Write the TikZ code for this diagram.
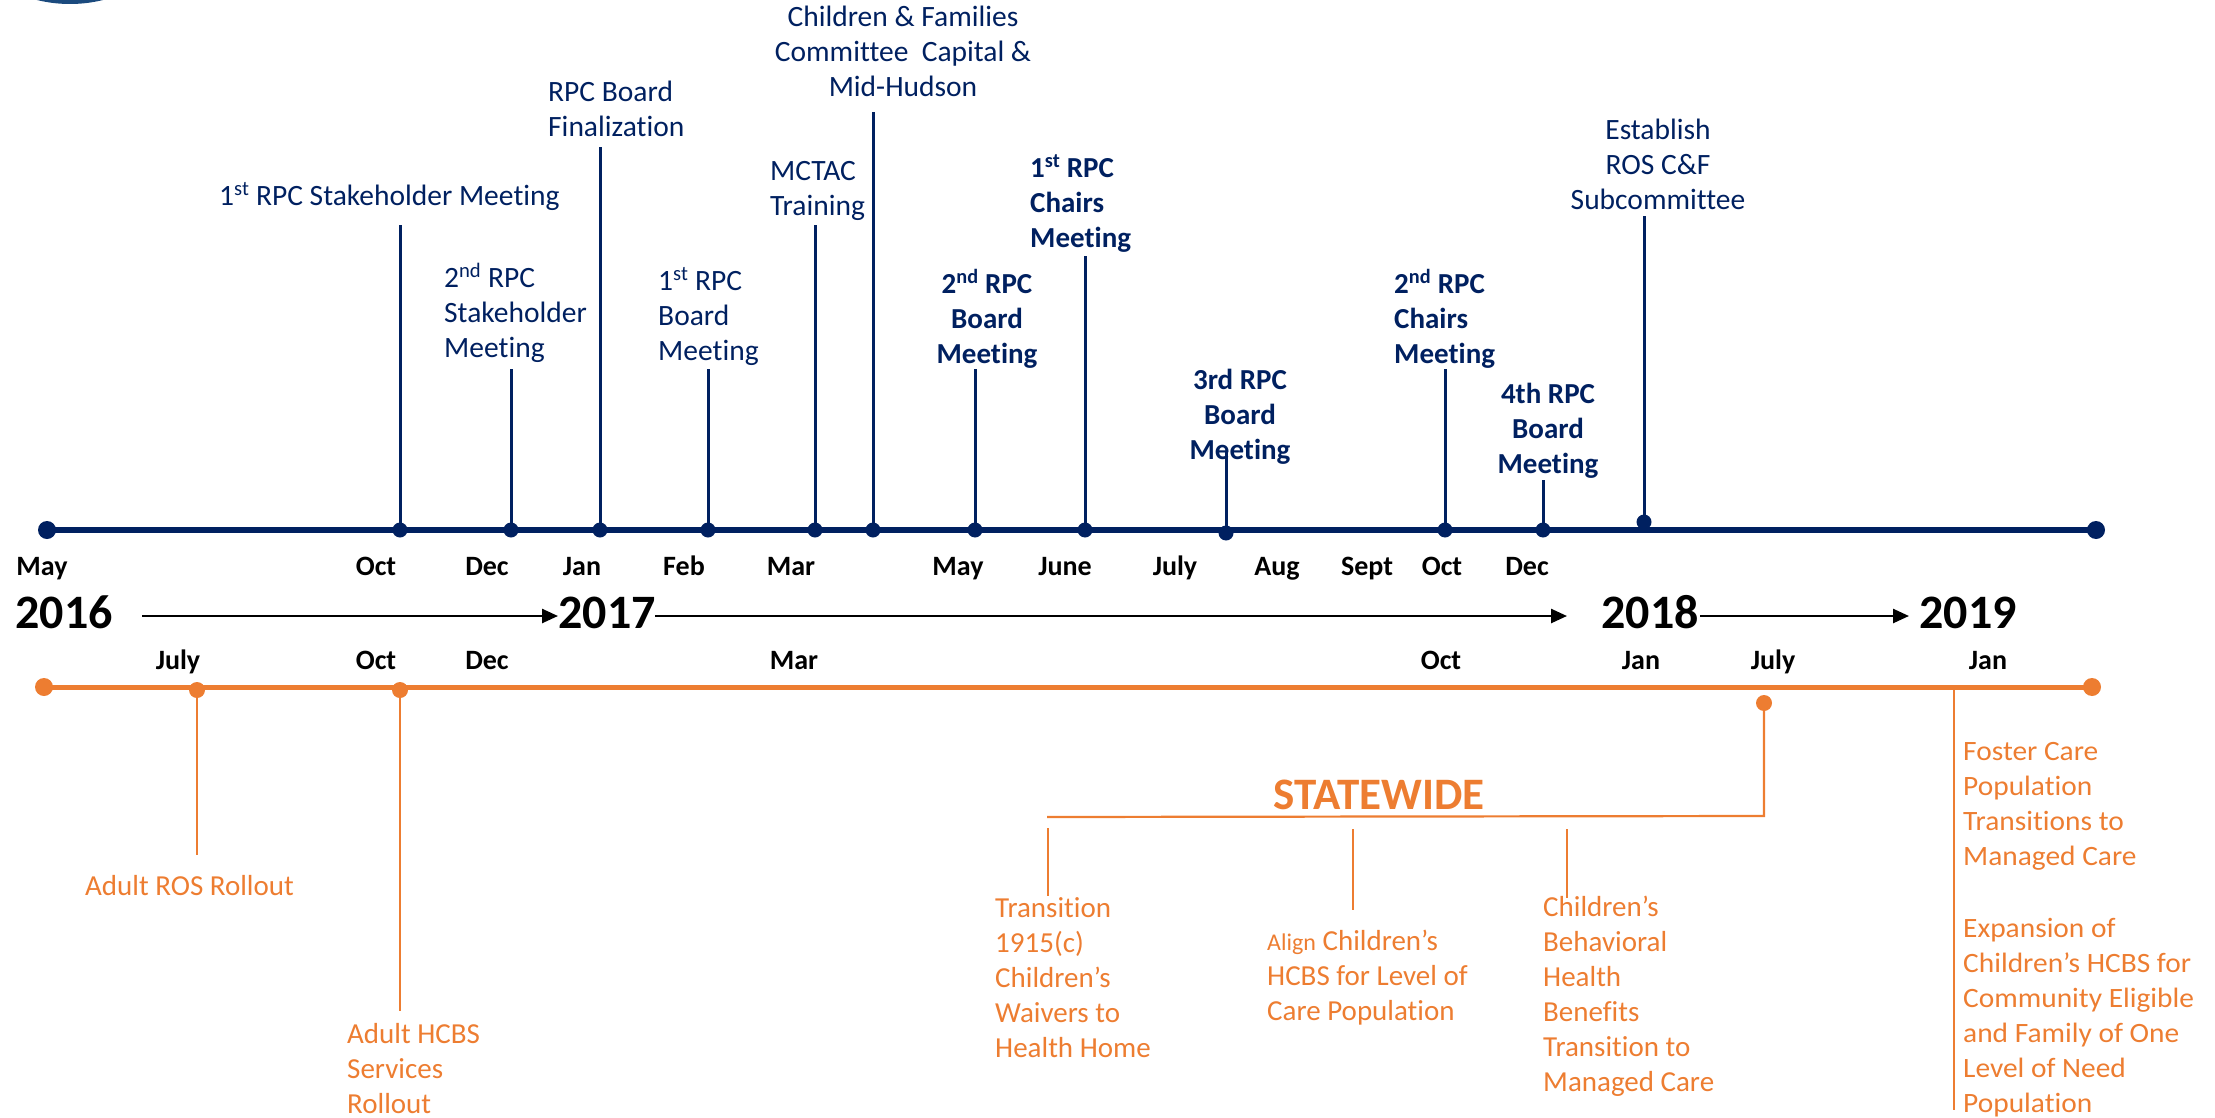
\documentclass[tikz,border=0pt]{standalone}
\usepackage{fontspec}
\setmainfont{Carlito}[Ligatures=NoCommon]
\newfontfamily\widefont{Carlito}[FakeStretch=1.05,Ligatures=NoCommon]
\usetikzlibrary{arrows.meta}
\definecolor{navy}{HTML}{002060}
\definecolor{org}{HTML}{ED7D31}
\definecolor{logoblue}{HTML}{1B4A7E}
\tikzset{
  lbl/.style={font=\fontsize{29.5}{35}\selectfont, inner sep=0pt, text=navy, align=left, anchor=base west},
  lblc/.style={lbl, align=center, anchor=base},
  blbl/.style={lbl, font=\bfseries\fontsize{29}{35}\selectfont},
  blblc/.style={blbl, align=center, anchor=base},
  mon/.style={font=\bfseries\fontsize{28}{33}\selectfont, inner sep=0pt, anchor=base, text=black},
  yr/.style={font=\bfseries\fontsize{48}{56}\selectfont, inner sep=0pt, anchor=base, text=black},
  olbl/.style={font=\fontsize{29}{35}\selectfont, inner sep=0pt, text=org, align=left, anchor=base west},
  wlbl/.style={olbl, font=\widefont\fontsize{28}{35}\selectfont},
  bdot/.style={circle, fill=navy, inner sep=0pt, minimum size=15pt},
  bdotend/.style={circle, fill=navy, inner sep=0pt, minimum size=18pt},
  odot/.style={circle, fill=org, inner sep=0pt, minimum size=16pt},
  odotend/.style={circle, fill=org, inner sep=0pt, minimum size=18pt},
  mainb/.style={draw=navy, line width=6pt},
  maino/.style={draw=org, line width=5pt},
  stem/.style={draw=navy, line width=3pt},
  ostem/.style={draw=org, line width=2.2pt},
  othin/.style={draw=org, line width=1.5pt},
  yarrow/.style={draw=black, line width=2.5pt, -{Triangle[length=16pt,width=14pt]}}
}
\begin{document}
\begin{tikzpicture}[x=1pt,y=-1pt]
\useasboundingbox (0,0) rectangle (2215,1118);
% logo remnant
\begin{scope}
\clip (0,0) rectangle (2215,1118);
\fill[logoblue] (70,-134) circle (138);
\end{scope}

% ---------- blue (regional) timeline ----------
\node[bdotend] (bL) at (47,530) {};
\node[bdotend] (bR) at (2096,530) {};
\draw[mainb] (bL.center) -- (bR.center);

\node[bdot] (d1) at (400,530) {};
\node[bdot] (d2) at (511,530) {};
\node[bdot] (d3) at (600,530) {};
\node[bdot] (d4) at (708,530) {};
\node[bdot] (d5) at (815,530) {};
\node[bdot] (d6) at (873,530) {};
\node[bdot] (d7) at (975,530) {};
\node[bdot] (d8) at (1085,530) {};
\node[bdot] (d9) at (1226,533) {};
\node[bdot] (d10) at (1445,530) {};
\node[bdot] (d11) at (1543,530) {};
\node[bdot] (d12) at (1644,522) {};

\coordinate (t1) at (400,225);
\coordinate (t2) at (511,369);
\coordinate (t3) at (600,147);
\coordinate (t4) at (708,369);
\coordinate (t5) at (815,225);
\coordinate (t6) at (873,112);
\coordinate (t7) at (975,369);
\coordinate (t8) at (1085,256);
\coordinate (t9) at (1226,452);
\coordinate (t10) at (1445,369);
\coordinate (t11) at (1543,480);
\coordinate (t12) at (1644,216);
\foreach \i in {1,...,12} {\draw[stem] (d\i.center) -- (t\i);}

% anchors are at the baseline of the last line
\node[lbl] (L1) at (219,205) {1\textsuperscript{st} RPC Stakeholder Meeting};
\node[lbl] (L2) at (444,357) {2\textsuperscript{nd} RPC\\Stakeholder\\Meeting};
\node[lbl] (L3) at (548,137) {RPC Board\\Finalization};
\node[lbl] (L4) at (658,360) {1\textsuperscript{st} RPC\\Board\\Meeting};
\node[lbl] (L5) at (770,215) {MCTAC\\Training};
\node[lblc] (L6) at (903,97) {Children \& Families\\Committee\ \ Capital \&\\Mid-Hudson};
\node[blblc] (L7) at (987,363) {2\textsuperscript{nd} RPC\\Board\\Meeting};
\node[blbl] (L8) at (1030,247) {1\textsuperscript{st} RPC\\Chairs\\Meeting};
\node[blblc] (L9) at (1240,459) {3rd RPC\\Board\\Meeting};
\node[blbl] (L10) at (1394,363) {2\textsuperscript{nd} RPC\\Chairs\\Meeting};
\node[blblc] (L11) at (1548,473) {4th RPC\\Board\\Meeting};
\node[lblc] (L12) at (1658,209) {Establish\\ROS C\&F\\Subcommittee};

% ---------- month / year rows ----------
\node[mon] (m1) at (42,575) {May};
\node[mon] (m2) at (376,575) {Oct};
\node[mon] (m3) at (487,575) {Dec};
\node[mon] (m4) at (582,575) {Jan};
\node[mon] (m5) at (684,575) {Feb};
\node[mon] (m6) at (791,575) {Mar};
\node[mon] (m7) at (958,575) {May};
\node[mon] (m8) at (1065,575) {June};
\node[mon] (m9) at (1175,575) {July};
\node[mon] (m10) at (1277,575) {Aug};
\node[mon] (m11) at (1367,575) {Sept};
\node[mon] (m12) at (1442,575) {Oct};
\node[mon] (m13) at (1527,575) {Dec};

\node[yr] (y16) at (64,628) {2016};
\node[yr] (y17) at (607,628) {2017};
\node[yr] (y18) at (1650,628) {2018};
\node[yr] (y19) at (1968,628) {2019};
\coordinate (a1s) at (142,616);
\coordinate (a1e) at (558,616);
\coordinate (a2s) at (655,616);
\coordinate (a2e) at (1567,616);
\coordinate (a3s) at (1700,616);
\coordinate (a3e) at (1909,616);
\draw[yarrow] (a1s) -- (a1e);
\draw[yarrow] (a2s) -- (a2e);
\draw[yarrow] (a3s) -- (a3e);

\node[mon] (n1) at (178,669) {July};
\node[mon] (n2) at (376,669) {Oct};
\node[mon] (n3) at (487,669) {Dec};
\node[mon] (n4) at (794,669) {Mar};
\node[mon] (n5) at (1441,669) {Oct};
\node[mon] (n6) at (1641,669) {Jan};
\node[mon] (n7) at (1773,669) {July};
\node[mon] (n8) at (1988,669) {Jan};

% ---------- orange (statewide) timeline ----------
\node[odotend] (oL) at (44,687) {};
\node[odotend] (oR) at (2092,687) {};
\draw[maino] (oL.center) -- (oR.center);

\node[odot] (o1) at (197,690) {};
\node[odot] (o2) at (400,690) {};
\node[odot] (o3) at (1764,703) {};
\coordinate (oj) at (1954,687);

\coordinate (s1) at (197,855);
\coordinate (s2) at (400,1011);
\draw[ostem] (o1.center) -- (s1);
\draw[ostem] (o2.center) -- (s2);

\coordinate (bk1) at (1764,816);
\coordinate (bk2) at (1047,817);
\draw[ostem] (o3.center) -- (bk1) -- (bk2);

\coordinate (u1a) at (1048,828);
\coordinate (u1b) at (1048,896);
\coordinate (u2a) at (1353,829);
\coordinate (u2b) at (1353,910);
\coordinate (u3a) at (1567,829);
\coordinate (u3b) at (1567,898);
\draw[othin] (u1a) -- (u1b);
\draw[othin] (u2a) -- (u2b);
\draw[othin] (u3a) -- (u3b);

\coordinate (ojb) at (1954,1110);
\draw[othin] (oj) -- (ojb);

\node[olbl] (B1) at (85,895) {Adult ROS Rollout};
\node[olbl] (B2) at (347,1113) {Adult HCBS\\Services\\Rollout};
\node[font=\bfseries\fontsize{45}{54}\selectfont, text=org, inner sep=0pt, anchor=base] (SW) at (1379,809) {STATEWIDE};
\node[olbl] (B3) at (995,1057) {Transition\\1915(c)\\Children’s\\Waivers to\\Health Home};
\node[olbl] (B4) at (1267,1020) {{\fontsize{24}{26}\selectfont Align} Children’s\\HCBS for Level of\\Care Population};
\node[olbl] (B5) at (1543,1091) {Children’s\\Behavioral\\Health\\Benefits\\Transition to\\Managed Care};
\node[wlbl] (B6) at (1963,865) {Foster Care\\Population\\Transitions to\\Managed Care};
\node[wlbl] (B7) at (1963,1112) {Expansion of\\Children’s HCBS for\\Community Eligible\\and Family of One\\Level of Need\\Population};
\end{tikzpicture}
\end{document}
